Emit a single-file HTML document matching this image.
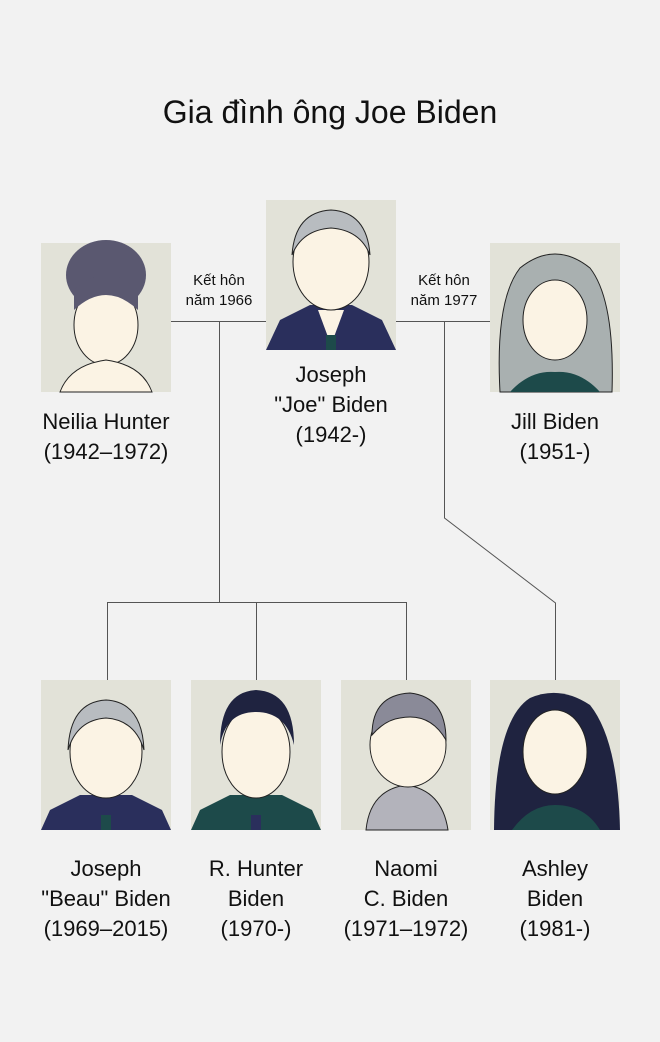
<!DOCTYPE html>
<html><head><meta charset="utf-8"><style>
html,body{margin:0;padding:0;background:#f2f2f2;}
body{width:660px;height:1042px;position:relative;overflow:hidden;font-family:"Liberation Sans",sans-serif;color:#111;}
svg{position:absolute;left:0;top:0}
.t{position:absolute;text-align:center;font-size:22px;line-height:30px;}
.s{position:absolute;font-size:15px;line-height:20px;text-align:center;}
</style></head><body>
<svg width="660" height="1042">
<g stroke="#555" stroke-width="1" fill="none">
<line x1="171" y1="321.5" x2="266" y2="321.5"/>
<line x1="396" y1="321.5" x2="490" y2="321.5"/>
<line x1="219.5" y1="321" x2="219.5" y2="602"/>
<line x1="107" y1="602.5" x2="406" y2="602.5"/>
<line x1="107.5" y1="602" x2="107.5" y2="680"/>
<line x1="256.5" y1="602" x2="256.5" y2="680"/>
<line x1="406.5" y1="602" x2="406.5" y2="680"/>
<polyline points="444.5,321 444.5,518 555.5,603 555.5,680"/>
</g>
<!-- portraits -->
<g>
<rect x="41" y="243" width="130" height="149" fill="#e2e2d8"/>
<ellipse cx="106" cy="275" rx="40" ry="35" fill="#5a5870"/>
<ellipse cx="106" cy="325" rx="32" ry="40" fill="#fbf3e4" stroke="#222"/>
<path d="M74 310 Q106 280 138 310 L138 290 Q106 260 74 290Z" fill="#5a5870"/>
<path d="M60 392 Q70 365 106 360 Q142 365 152 392Z" fill="#fbf3e4" stroke="#222"/>

<rect x="266" y="200" width="130" height="150" fill="#e2e2d8"/>
<path d="M266 350 L280 320 L310 305 L352 305 L382 320 L396 350Z" fill="#2a2f5c"/>
<path d="M318 310 L331 345 L344 310Z" fill="#fbf3e4"/>
<rect x="326" y="335" width="10" height="15" fill="#1d4a4a"/>
<ellipse cx="331" cy="262" rx="38" ry="48" fill="#fbf3e4" stroke="#222"/>
<path d="M292 255 Q295 212 331 210 Q367 212 370 255 Q360 230 331 228 Q302 230 292 255Z" fill="#b8bcc0" stroke="#222"/>

<rect x="490" y="243" width="130" height="149" fill="#e2e2d8"/>
<path d="M500 392 Q495 300 520 268 Q555 240 590 268 Q615 300 612 392Z" fill="#a9b0b0" stroke="#222"/>
<path d="M510 392 Q530 370 555 372 Q580 370 600 392Z" fill="#1d4a4a"/>
<ellipse cx="555" cy="320" rx="32" ry="40" fill="#fbf3e4" stroke="#222"/>

<rect x="41" y="680" width="130" height="150" fill="#e2e2d8"/>
<path d="M41 830 L50 810 L80 795 L132 795 L162 810 L171 830Z" fill="#2a2f5c"/>
<rect x="101" y="815" width="10" height="15" fill="#1d4a4a"/>
<ellipse cx="106" cy="752" rx="36" ry="46" fill="#fbf3e4" stroke="#222"/>
<path d="M68 750 Q70 702 106 700 Q142 702 144 750 Q135 720 106 718 Q77 720 68 750Z" fill="#b8bcc0" stroke="#222"/>

<rect x="191" y="680" width="130" height="150" fill="#e2e2d8"/>
<path d="M191 830 L200 810 L230 795 L282 795 L312 810 L321 830Z" fill="#1d4a4a"/>
<rect x="251" y="815" width="10" height="15" fill="#2a2f5c"/>
<ellipse cx="256" cy="752" rx="34" ry="46" fill="#fbf3e4" stroke="#222"/>
<path d="M220 745 Q220 692 256 690 Q294 692 294 745 Q286 712 256 712 Q226 712 220 745Z" fill="#1f2340"/>

<rect x="341" y="680" width="130" height="150" fill="#e2e2d8"/>
<path d="M366 830 Q370 790 406 785 Q442 790 448 830Z" fill="#b3b3bb" stroke="#222"/>
<ellipse cx="408" cy="745" rx="38" ry="42" fill="#fbf3e4" stroke="#222"/>
<path d="M372 735 Q372 695 410 693 Q446 697 446 740 Q430 712 400 718 Q385 720 372 735Z" fill="#8a8a98" stroke="#222"/>

<rect x="490" y="680" width="130" height="150" fill="#e2e2d8"/>
<path d="M494 830 Q495 720 530 698 Q560 685 590 705 Q618 740 620 830Z" fill="#1f2340"/>
<ellipse cx="555" cy="752" rx="32" ry="42" fill="#fbf3e4" stroke="#222"/>
<path d="M512 830 Q530 805 555 805 Q585 805 600 830Z" fill="#1d4a4a"/>
</g>
</svg>
<div class="t" style="left:0;width:660px;top:92px;font-size:32px;line-height:40px;">Gia đình ông Joe Biden</div>
<div class="s" style="left:171px;width:96px;top:271px;">Kết hôn<br>năm 1966</div>
<div class="s" style="left:396px;width:96px;top:271px;">Kết hôn<br>năm 1977</div>
<div class="t" style="left:16px;width:180px;top:407px;">Neilia Hunter<br>(1942–1972)</div>
<div class="t" style="left:241px;width:180px;top:360px;">Joseph<br>"Joe" Biden<br>(1942-)</div>
<div class="t" style="left:465px;width:180px;top:407px;">Jill Biden<br>(1951-)</div>
<div class="t" style="left:16px;width:180px;top:854px;">Joseph<br>"Beau" Biden<br>(1969–2015)</div>
<div class="t" style="left:166px;width:180px;top:854px;">R. Hunter<br>Biden<br>(1970-)</div>
<div class="t" style="left:316px;width:180px;top:854px;">Naomi<br>C. Biden<br>(1971–1972)</div>
<div class="t" style="left:465px;width:180px;top:854px;">Ashley<br>Biden<br>(1981-)</div>
</body></html>
